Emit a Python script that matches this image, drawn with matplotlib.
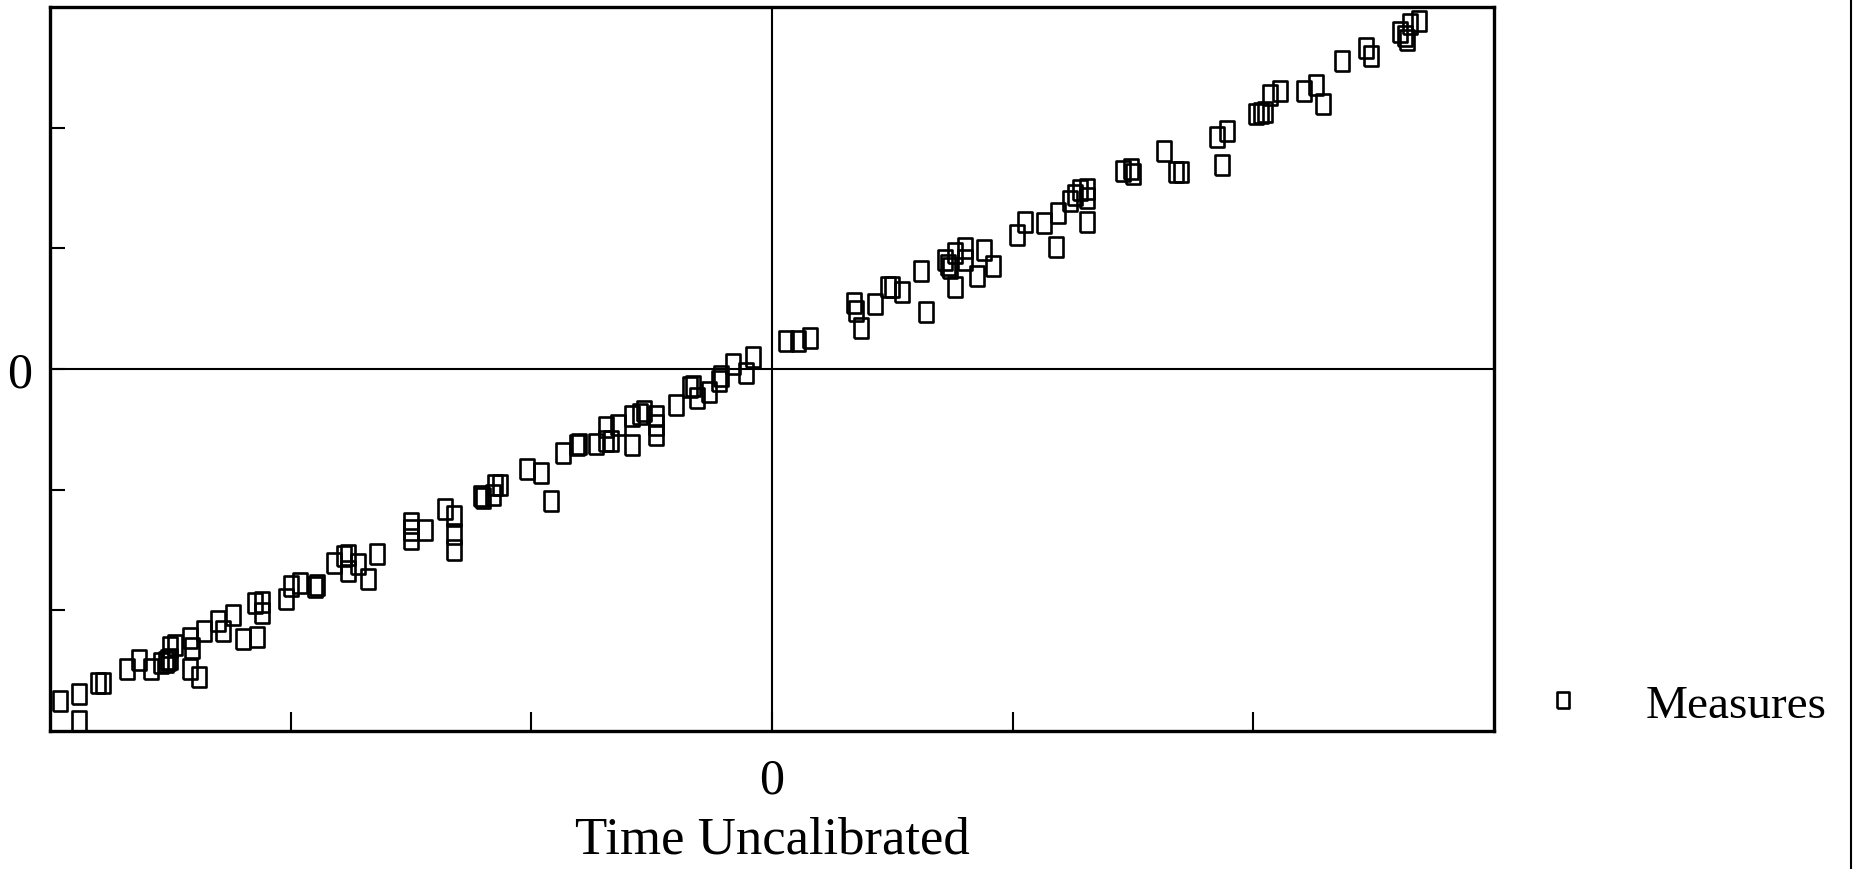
import numpy as np
import matplotlib.pyplot as plt
from matplotlib.lines import Line2D

# ---------------------------------------------------------------
# Data (arbitrary units, axis span -3..3)
# ---------------------------------------------------------------
x_neg = [-2.96, -2.88, -2.88, -2.80, -2.78, -2.68, -2.63, -2.58,
         -2.54, -2.52, -2.51, -2.50, -2.50, -2.48, -2.42, -2.41,
         -2.42, -2.38, -2.36, -2.30, -2.28, -2.24, -2.20, -2.14,
         -2.15, -2.12, -2.12, -2.02, -2.00, -1.96, -1.90, -1.89,
         -1.82, -1.78, -1.76, -1.76, -1.72, -1.68, -1.64, -1.50,
         -1.50, -1.50, -1.44, -1.36, -1.32, -1.32, -1.32, -1.21,
         -1.20, -1.16, -1.15, -1.13, -1.02, -0.96, -0.92, -0.87,
         -0.81, -0.80, -0.73, -0.69, -0.67, -0.69, -0.64, -0.58,
         -0.58, -0.55, -0.53, -0.48, -0.48, -0.48, -0.40, -0.34,
         -0.33, -0.31, -0.26, -0.22, -0.21, -0.16, -0.11, -0.08]
y_neg = [-2.75, -2.69, -2.92, -2.60, -2.60, -2.49, -2.41, -2.49,
         -2.44, -2.43, -2.41, -2.40, -2.30, -2.29, -2.23, -2.31,
         -2.49, -2.55, -2.17, -2.09, -2.17, -2.04, -2.24, -2.22,
         -1.94, -1.93, -2.02, -1.91, -1.80, -1.77, -1.81, -1.79,
         -1.61, -1.55, -1.54, -1.67, -1.62, -1.74, -1.53, -1.28,
         -1.33, -1.41, -1.33, -1.16, -1.22, -1.37, -1.50, -1.05,
         -1.07, -1.04, -0.96, -0.96, -0.83, -0.86, -1.09, -0.70,
         -0.63, -0.62, -0.62, -0.60, -0.60, -0.48, -0.46, -0.63,
         -0.39, -0.37, -0.35, -0.39, -0.46, -0.55, -0.30, -0.15,
         -0.14, -0.24, -0.19, -0.10, -0.06, 0.04, -0.03, 0.10]

x_pos = [0.06, 0.11, 0.16, 0.34, 0.35, 0.37, 0.43, 0.48, 0.50, 0.54,
         0.62, 0.64, 0.72, 0.73, 0.74, 0.76, 0.76, 0.80, 0.80, 0.85,
         0.88, 0.92, 1.02, 1.05, 1.13, 1.18, 1.19, 1.24, 1.26, 1.28,
         1.31, 1.31, 1.31, 1.46, 1.49, 1.50, 1.63, 1.68, 1.70, 1.85,
         1.89, 1.87, 2.01, 2.03, 2.05, 2.07, 2.11, 2.21, 2.26, 2.29,
         2.37, 2.47, 2.49, 2.61, 2.64, 2.65, 2.69, 2.63]
y_pos = [0.23, 0.23, 0.26, 0.55, 0.48, 0.34, 0.54, 0.68, 0.68, 0.64,
         0.81, 0.47, 0.90, 0.86, 0.84, 0.96, 0.68, 1.00, 0.90, 0.77,
         0.99, 0.85, 1.11, 1.22, 1.21, 1.01, 1.29, 1.39, 1.44, 1.48,
         1.49, 1.42, 1.22, 1.64, 1.66, 1.62, 1.81, 1.63, 1.63, 1.92,
         1.97, 1.69, 2.11, 2.12, 2.13, 2.27, 2.30, 2.30, 2.35, 2.20,
         2.55, 2.66, 2.59, 2.79, 2.73, 2.86, 2.88, 2.76]

x_vals = np.array(x_neg + x_pos)
y_vals = np.array(y_neg + y_pos)

minor_ticks = [-2, -1, 0, 1, 2]
label_font = ['Liberation Serif', 'DejaVu Serif']

# ---------------------------------------------------------------
# Plot
# ---------------------------------------------------------------
fig = plt.figure(figsize=(18.6, 8.7), dpi=100)
ax = fig.add_axes([0.0269, 0.1586, 0.7763, 0.8322])

# slightly tall open square, like the plotter glyph
box = [(-0.72, -1), (0.72, -1), (0.72, 1), (-0.72, 1), (-0.72, -1)]
ax.plot(x_vals, y_vals, linestyle='none', marker=box, markersize=14,
        markerfacecolor='none', markeredgecolor='black',
        markeredgewidth=1.9, label='Measures')

ax.axhline(0, color='black', lw=1.5)
ax.axvline(0, color='black', lw=1.5)

ax.set_xlim(-3, 3)
ax.set_ylim(-3, 3)
ax.set_xticks(minor_ticks)
ax.set_yticks(minor_ticks)
ax.set_xticklabels(['', '', '0', '', ''])
ax.set_yticklabels(['', '', '0', '', ''])
ax.tick_params(direction='in', width=1.5, labelsize=36)
ax.tick_params(axis='x', length=14, pad=19)
ax.tick_params(axis='y', length=11, pad=13)
for lab in ax.get_xticklabels() + ax.get_yticklabels():
    lab.set_family(label_font)

for side in ax.spines.values():
    side.set_linewidth(2.4)

ax.set_xlabel('Time Uncalibrated', fontsize=38, family=label_font,
              labelpad=8)

leg = ax.legend(loc='center left', bbox_to_anchor=(0.805, 0.188),
                bbox_transform=fig.transFigure, frameon=False,
                prop={'family': label_font, 'size': 34},
                handlelength=1.0, handletextpad=1.25, markerscale=0.8)

# scan-edge rule at the far right of the page
fig.add_artist(Line2D([0.995, 0.995], [0.0, 1.0], color='black', lw=1.5,
                      transform=fig.transFigure))

fig.savefig('out.png', dpi=100)
